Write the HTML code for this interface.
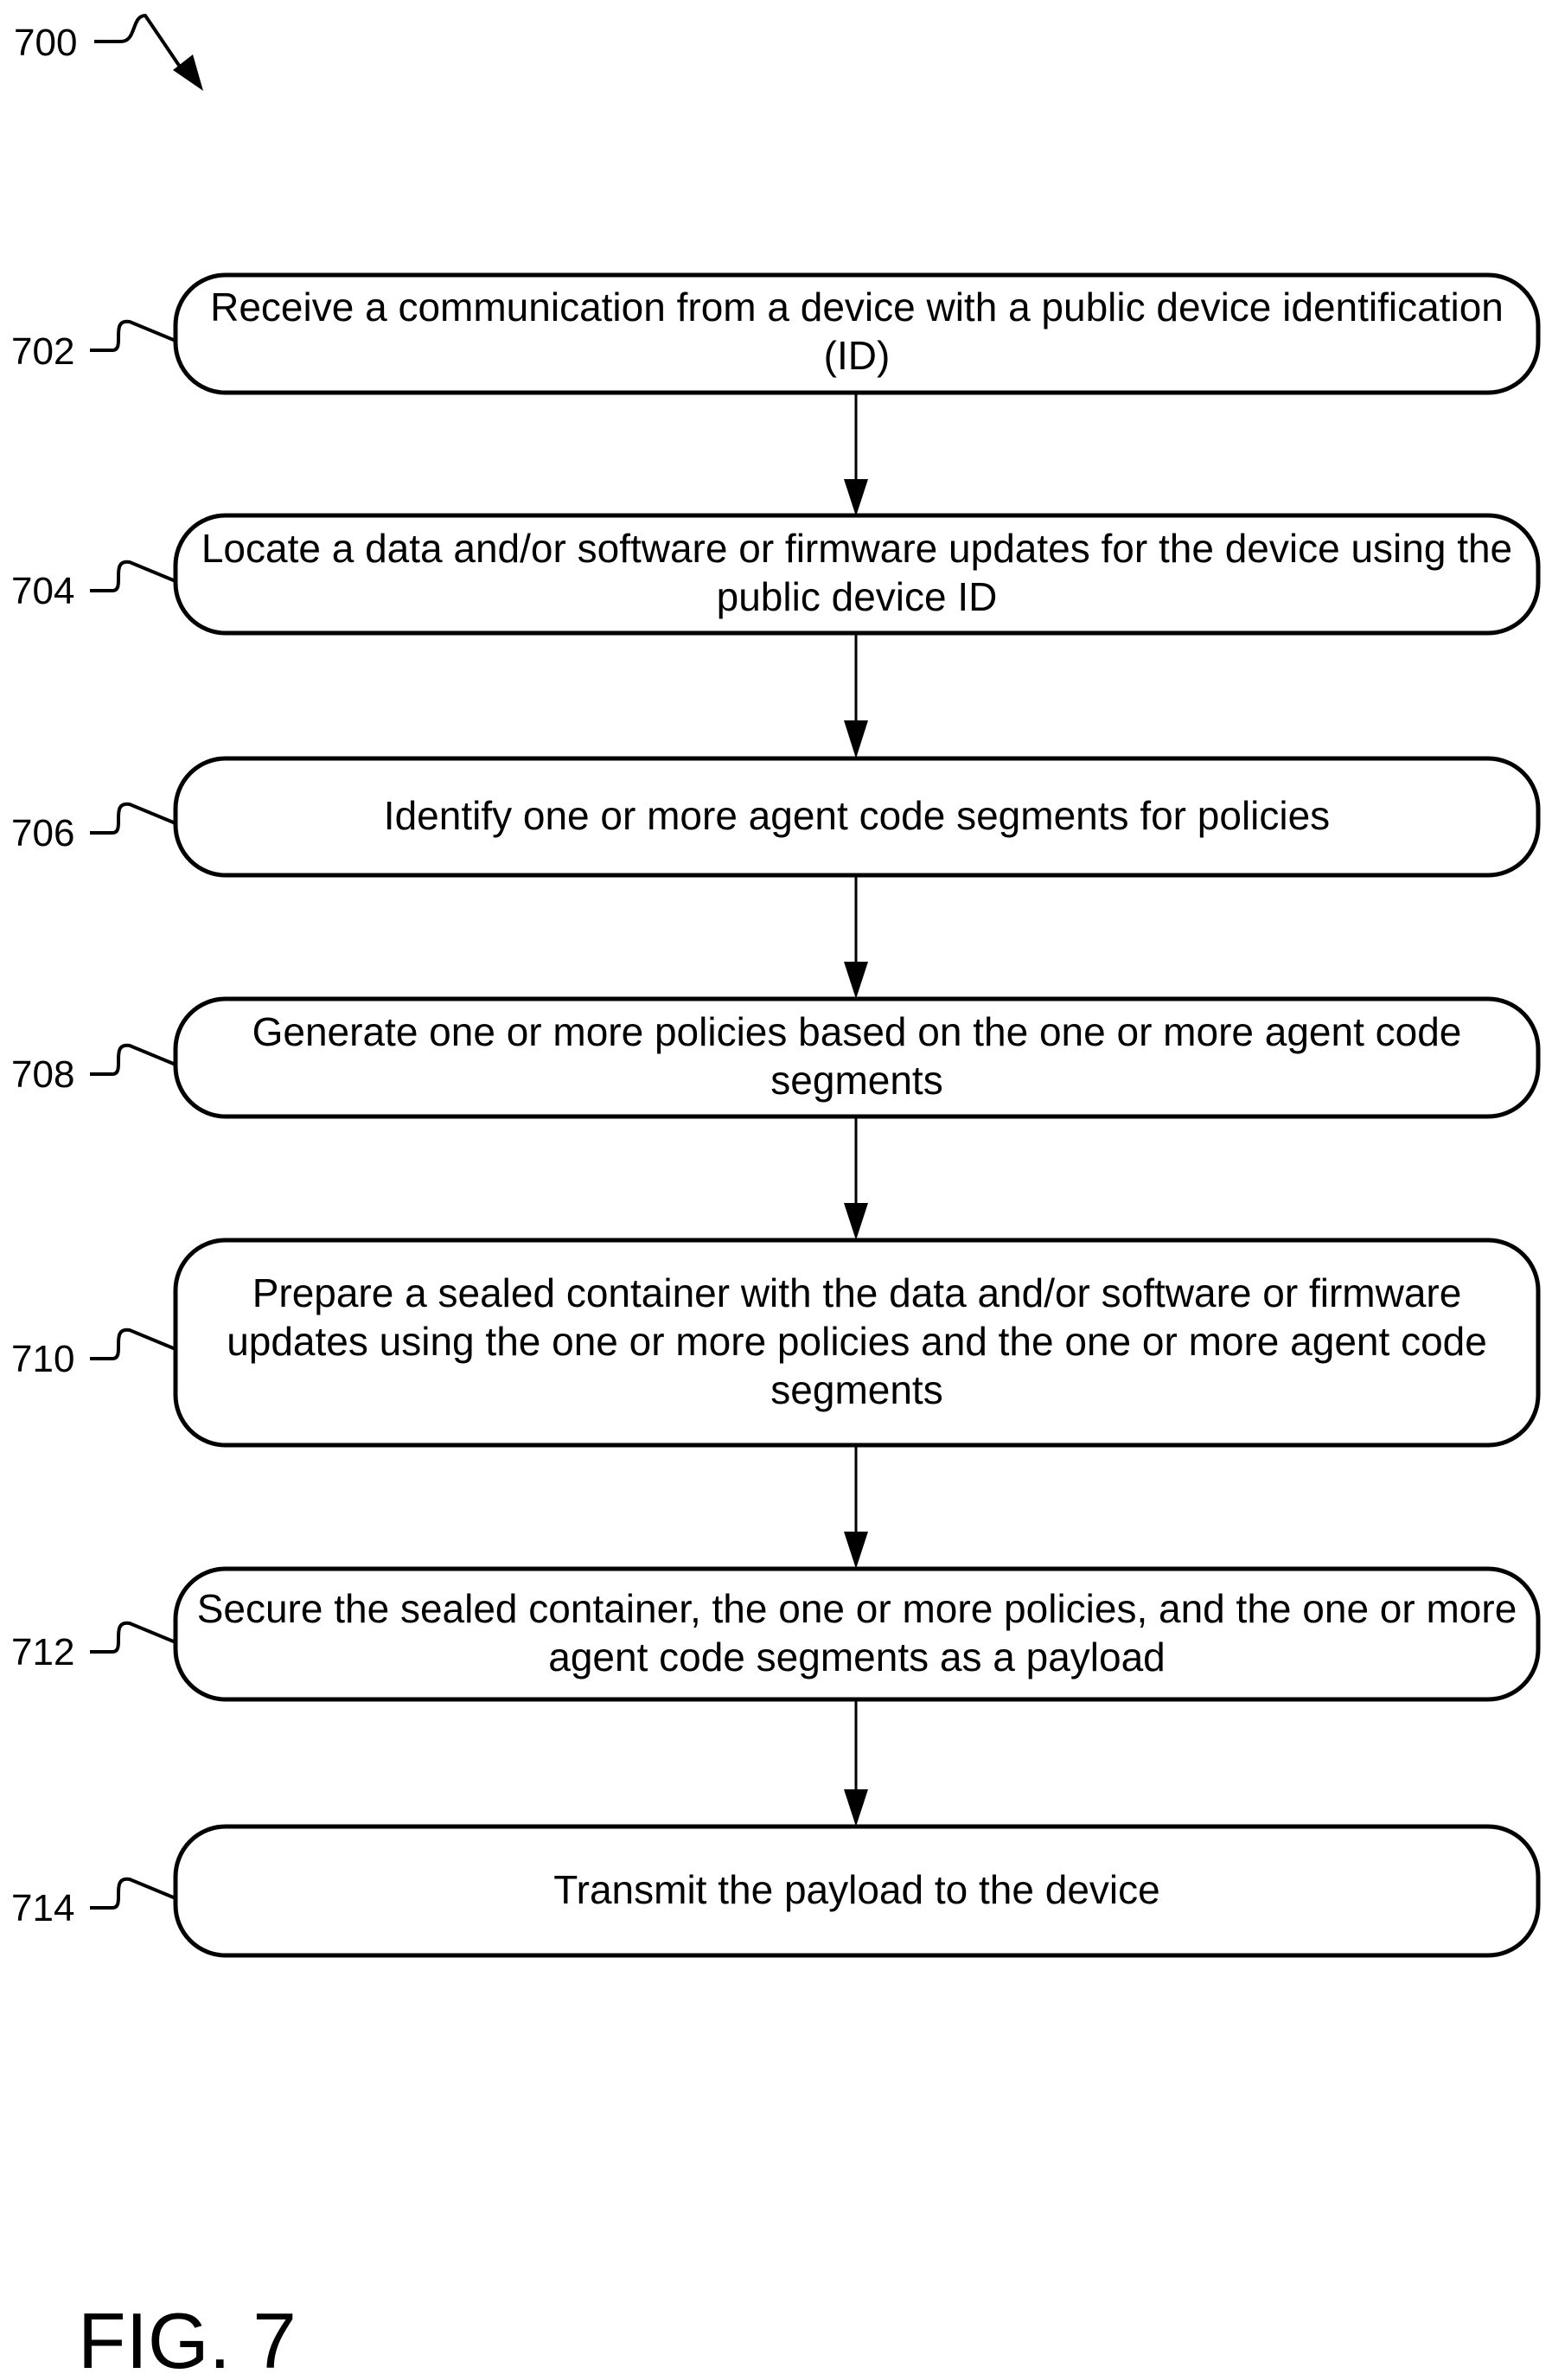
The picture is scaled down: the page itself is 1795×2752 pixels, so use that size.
<!DOCTYPE html>
<html><head><meta charset="utf-8"><style>
html,body{margin:0;padding:0;background:#fff}
svg{display:block}
text{font-family:"Liberation Sans",Arial,sans-serif;fill:#000}
</style></head><body>
<svg width="1795" height="2752" viewBox="0 0 1795 2752" xmlns="http://www.w3.org/2000/svg">
<g fill="none" stroke="#000" stroke-width="5">
<rect x="203" y="318" width="1576" height="136" rx="58"/>
<rect x="203" y="596" width="1576" height="136" rx="58"/>
<rect x="203" y="877" width="1576" height="135" rx="58"/>
<rect x="203" y="1155" width="1576" height="136" rx="58"/>
<rect x="203" y="1434" width="1576" height="237" rx="58"/>
<rect x="203" y="1814" width="1576" height="151" rx="58"/>
<rect x="203" y="2112" width="1576" height="149" rx="58"/>
</g>
<g stroke="#000" stroke-width="3">
<line x1="990" y1="454" x2="990" y2="560"/>
<line x1="990" y1="732" x2="990" y2="842"/>
<line x1="990" y1="1012" x2="990" y2="1120"/>
<line x1="990" y1="1291" x2="990" y2="1400"/>
<line x1="990" y1="1671" x2="990" y2="1780"/>
<line x1="990" y1="1965" x2="990" y2="2078"/>
</g>
<g fill="#000">
<polygon points="976,554 1004,554 990,597"/>
<polygon points="976,833 1004,833 990,877"/>
<polygon points="976,1112 1004,1112 990,1155"/>
<polygon points="976,1391 1004,1391 990,1434"/>
<polygon points="976,1771 1004,1771 990,1814"/>
<polygon points="976,2069 1004,2069 990,2112"/>
</g>
<g font-size="46" text-anchor="middle">
<text x="991" y="371">Receive a communication from a device with a public device identification</text>
<text x="991" y="427">(ID)</text>
<text x="991" y="650">Locate a data and/or software or firmware updates for the device using the</text>
<text x="991" y="706">public device ID</text>
<text x="991" y="959">Identify one or more agent code segments for policies</text>
<text x="991" y="1209">Generate one or more policies based on the one or more agent code</text>
<text x="991" y="1265">segments</text>
<text x="991" y="1511">Prepare a sealed container with the data and/or software or firmware</text>
<text x="991" y="1567">updates using the one or more policies and the one or more agent code</text>
<text x="991" y="1623">segments</text>
<text x="991" y="1876">Secure the sealed container, the one or more policies, and the one or more</text>
<text x="991" y="1932">agent code segments as a payload</text>
<text x="991" y="2201">Transmit the payload to the device</text>
</g>
<g font-size="44">
<text x="16" y="64">700</text>
<text x="13" y="421">702</text>
<text x="13" y="698">704</text>
<text x="13" y="978">706</text>
<text x="13" y="1257">708</text>
<text x="13" y="1586">710</text>
<text x="13" y="1925">712</text>
<text x="13" y="2221">714</text>
<text x="90" y="2738" font-size="91">FIG. 7</text>
</g>
<g fill="none" stroke="#000" stroke-width="4">
<path d="M109,48 L140,48 C158,48 152,18 168,18 L210,80"/>
<path d="M104,405 L130,405 C146,405 126,368 150,372 L203,394"/>
<path d="M104,683 L130,683 C146,683 126,646 150,650 L203,672"/>
<path d="M104,963 L130,963 C146,963 126,926 150,930 L203,952"/>
<path d="M104,1242 L130,1242 C146,1242 126,1205 150,1209 L203,1231"/>
<path d="M104,1571 L130,1571 C146,1571 126,1534 150,1538 L203,1560"/>
<path d="M104,1910 L130,1910 C146,1910 126,1873 150,1877 L203,1899"/>
<path d="M104,2206 L130,2206 C146,2206 126,2169 150,2173 L203,2195"/>
</g>
<polygon points="200,81 223,63 235,105" fill="#000"/>
</svg>
</body></html>
